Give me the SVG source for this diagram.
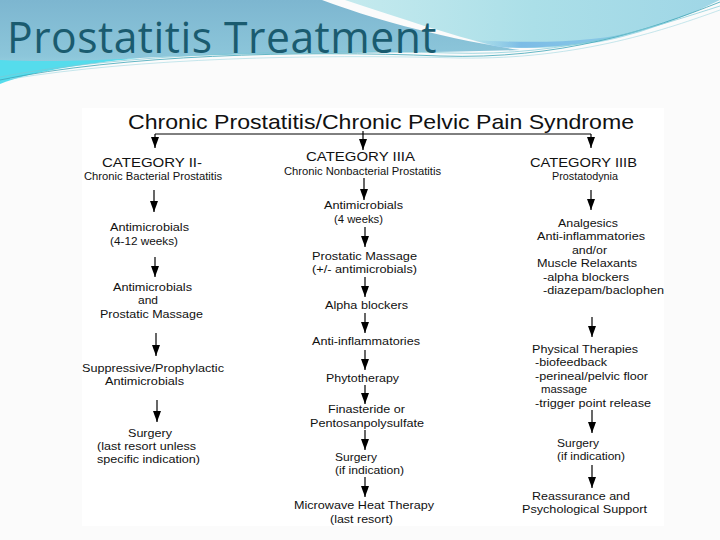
<svg xmlns="http://www.w3.org/2000/svg" width="720" height="540" viewBox="0 0 720 540">
<defs>
<linearGradient id="gLeft" x1="0" y1="0" x2="0" y2="1">
<stop offset="0" stop-color="#7db6d0"/>
<stop offset="0.7" stop-color="#8cc6da"/>
<stop offset="1" stop-color="#a5dbe6"/>
</linearGradient>
<linearGradient id="gRight" x1="0" y1="0" x2="1" y2="0">
<stop offset="0" stop-color="#c5eaee"/>
<stop offset="0.5" stop-color="#abdfe8"/>
<stop offset="1" stop-color="#9fd6e6"/>
</linearGradient>
<linearGradient id="gBand" x1="0" y1="0" x2="1" y2="0">
<stop offset="0" stop-color="#8fcbe6" stop-opacity="0"/>
<stop offset="0.3" stop-color="#7cbce6"/>
<stop offset="1" stop-color="#8ccbe6"/>
</linearGradient>
<marker id="ah" viewBox="0 0 11 8" refX="11" refY="4" markerWidth="11" markerHeight="8" markerUnits="userSpaceOnUse" orient="auto">
<path d="M0,0 L11,4 L0,8 Z" fill="#000"/>
</marker>
<style>
.t{font-family:"Liberation Sans",Arial,sans-serif;fill:#111}
.b{font-size:11.5px}
.c{font-size:13px}
.s{font-size:10px}
.h{font-size:21px}
.ttl{font-family:"Open Sans","Liberation Sans",sans-serif;font-size:43px;fill:#1a5b6f;letter-spacing:0.5px;font-variant-ligatures:none;font-feature-settings:"liga" 0}
.ar{stroke:#000;stroke-width:1.2;fill:none;marker-end:url(#ah)}
.ln{stroke:#000;stroke-width:1;fill:none}
</style>
</defs>
<rect x="0" y="0" width="720" height="540" fill="#fbfbfb"/>
<rect x="82" y="108" width="582" height="418" fill="#ffffff"/>
<g id="decoration">
<path d="M0,0 H322 C370,18 440,38 520,50 C400,54 250,52 140,58 C80,62 30,70 0,80 Z" fill="url(#gLeft)"/>
<path d="M0,60 C40,62 90,61 140,58 C80,64 30,72 0,84 Z" fill="#55dcec"/>
<path d="M345,0 H720 C690,15 640,35 600,42 C560,48 520,50 495,46 C450,35 400,18 345,0 Z" fill="url(#gRight)"/>
<path d="M470,40 C540,44 600,42 640,30 C600,44 540,50 495,47 Z" fill="url(#gBand)"/>
<path d="M0,80 C120,55 300,50 440,56 C560,60 650,30 720,2" stroke="#3ea5b6" stroke-width="0.8" fill="none"/>
<path d="M0,77 C120,54 300,48 450,53 C570,57 660,25 720,6" stroke="#7cc8d6" stroke-width="0.7" fill="none"/>
<path d="M10,79 C140,58 310,54 460,58 C580,60 670,28 720,10" stroke="#9fd6e0" stroke-width="0.6" fill="none"/>
</g>
<text class="ttl" x="7" y="53" textLength="430" lengthAdjust="spacingAndGlyphs">Prostatitis Treatment</text>
<g id="connectors">
<path class="ln" d="M155,134 H591"/>
<path class="ar" d="M155,134 V148"/>
<path class="ar" d="M363,131 V150"/>
<path class="ar" d="M591,134 V148"/>
<path class="ar" d="M364,178 V200"/>
<path class="ar" d="M154,190 V212"/>
<path class="ar" d="M155,257 V277"/>
<path class="ar" d="M156,333 V356"/>
<path class="ar" d="M157,400 V422"/>
<path class="ar" d="M365,227 V247"/>
<path class="ar" d="M365,277 V297"/>
<path class="ar" d="M365,313 V333"/>
<path class="ar" d="M365,350 V370"/>
<path class="ar" d="M365,385 V404"/>
<path class="ar" d="M365,430 V450"/>
<path class="ar" d="M365,477 V497"/>
<path class="ar" d="M591,190 V210"/>
<path class="ar" d="M592,317 V337"/>
<path class="ar" d="M592,410 V433"/>
<path class="ar" d="M592,465 V488"/>
</g>
<g id="root">
<text class="t h" x="128" y="129" textLength="506" lengthAdjust="spacingAndGlyphs">Chronic Prostatitis/Chronic Pelvic Pain Syndrome</text>
</g>
<g id="cat2">
<text class="t c" x="102" y="167" textLength="100" lengthAdjust="spacingAndGlyphs">CATEGORY II-</text>
<text class="t s" x="84" y="180" textLength="138" lengthAdjust="spacingAndGlyphs">Chronic Bacterial Prostatitis</text>
</g>
<g id="cat3a">
<text class="t c" x="306" y="161" textLength="109" lengthAdjust="spacingAndGlyphs">CATEGORY IIIA</text>
<text class="t s" x="284" y="175" textLength="157" lengthAdjust="spacingAndGlyphs">Chronic Nonbacterial Prostatitis</text>
</g>
<g id="cat3b">
<text class="t c" x="530" y="167" textLength="107" lengthAdjust="spacingAndGlyphs">CATEGORY IIIB</text>
<text class="t s" x="552" y="180" textLength="66" lengthAdjust="spacingAndGlyphs">Prostatodynia</text>
</g>
<g id="c2n1">
<text class="t b" x="110" y="231" textLength="79" lengthAdjust="spacingAndGlyphs">Antimicrobials</text>
<text class="t b" x="110" y="245" textLength="68" lengthAdjust="spacingAndGlyphs">(4-12 weeks)</text>
</g>
<g id="c2n2">
<text class="t b" x="113" y="291" textLength="79" lengthAdjust="spacingAndGlyphs">Antimicrobials</text>
<text class="t b" x="138" y="304" textLength="20" lengthAdjust="spacingAndGlyphs">and</text>
<text class="t b" x="100" y="318" textLength="103" lengthAdjust="spacingAndGlyphs">Prostatic Massage</text>
</g>
<g id="c2n3">
<text class="t b" x="82" y="372" textLength="142" lengthAdjust="spacingAndGlyphs">Suppressive/Prophylactic</text>
<text class="t b" x="105" y="385" textLength="79" lengthAdjust="spacingAndGlyphs">Antimicrobials</text>
</g>
<g id="c2n4">
<text class="t b" x="128" y="437" textLength="44" lengthAdjust="spacingAndGlyphs">Surgery</text>
<text class="t b" x="97" y="450" textLength="99" lengthAdjust="spacingAndGlyphs">(last resort unless</text>
<text class="t b" x="97" y="463" textLength="103" lengthAdjust="spacingAndGlyphs">specific indication)</text>
</g>
<g id="c3an1">
<text class="t b" x="324" y="209" textLength="79" lengthAdjust="spacingAndGlyphs">Antimicrobials</text>
<text class="t b" x="334" y="223" textLength="49" lengthAdjust="spacingAndGlyphs">(4 weeks)</text>
</g>
<g id="c3an2">
<text class="t b" x="312" y="260" textLength="105" lengthAdjust="spacingAndGlyphs">Prostatic Massage</text>
<text class="t b" x="312" y="273" textLength="105" lengthAdjust="spacingAndGlyphs">(+/- antimicrobials)</text>
</g>
<g id="c3an3">
<text class="t b" x="325" y="309" textLength="83" lengthAdjust="spacingAndGlyphs">Alpha blockers</text>
</g>
<g id="c3an4">
<text class="t b" x="312" y="345" textLength="108" lengthAdjust="spacingAndGlyphs">Anti-inflammatories</text>
</g>
<g id="c3an5">
<text class="t b" x="326" y="382" textLength="73" lengthAdjust="spacingAndGlyphs">Phytotherapy</text>
</g>
<g id="c3an6">
<text class="t b" x="328" y="413" textLength="77" lengthAdjust="spacingAndGlyphs">Finasteride or</text>
<text class="t b" x="310" y="427" textLength="114" lengthAdjust="spacingAndGlyphs">Pentosanpolysulfate</text>
</g>
<g id="c3an7">
<text class="t b" x="335" y="461" textLength="42" lengthAdjust="spacingAndGlyphs">Surgery</text>
<text class="t b" x="335" y="474" textLength="69" lengthAdjust="spacingAndGlyphs">(if indication)</text>
</g>
<g id="c3an8">
<text class="t b" x="294" y="509" textLength="140" lengthAdjust="spacingAndGlyphs">Microwave Heat Therapy</text>
<text class="t b" x="330" y="523" textLength="63" lengthAdjust="spacingAndGlyphs">(last resort)</text>
</g>
<g id="c3bn1">
<text class="t b" x="558" y="227" textLength="60" lengthAdjust="spacingAndGlyphs">Analgesics</text>
<text class="t b" x="537" y="240" textLength="108" lengthAdjust="spacingAndGlyphs">Anti-inflammatories</text>
<text class="t b" x="572" y="254" textLength="35" lengthAdjust="spacingAndGlyphs">and/or</text>
<text class="t b" x="537" y="267" textLength="100" lengthAdjust="spacingAndGlyphs">Muscle Relaxants</text>
<text class="t b" x="543" y="281" textLength="86" lengthAdjust="spacingAndGlyphs">-alpha blockers</text>
<text class="t b" x="543" y="294" textLength="121" lengthAdjust="spacingAndGlyphs">-diazepam/baclophen</text>
</g>
<g id="c3bn2">
<text class="t b" x="532" y="353" textLength="106" lengthAdjust="spacingAndGlyphs">Physical Therapies</text>
<text class="t b" x="535" y="366" textLength="72" lengthAdjust="spacingAndGlyphs">-biofeedback</text>
<text class="t b" x="535" y="380" textLength="113" lengthAdjust="spacingAndGlyphs">-perineal/pelvic floor</text>
<text class="t b" x="541" y="393" textLength="46" lengthAdjust="spacingAndGlyphs">massage</text>
<text class="t b" x="535" y="407" textLength="116" lengthAdjust="spacingAndGlyphs">-trigger point release</text>
</g>
<g id="c3bn3">
<text class="t b" x="557" y="447" textLength="42" lengthAdjust="spacingAndGlyphs">Surgery</text>
<text class="t b" x="557" y="460" textLength="68" lengthAdjust="spacingAndGlyphs">(if indication)</text>
</g>
<g id="c3bn4">
<text class="t b" x="532" y="500" textLength="98" lengthAdjust="spacingAndGlyphs">Reassurance and</text>
<text class="t b" x="522" y="513" textLength="125" lengthAdjust="spacingAndGlyphs">Psychological Support</text>
</g>
</svg>
